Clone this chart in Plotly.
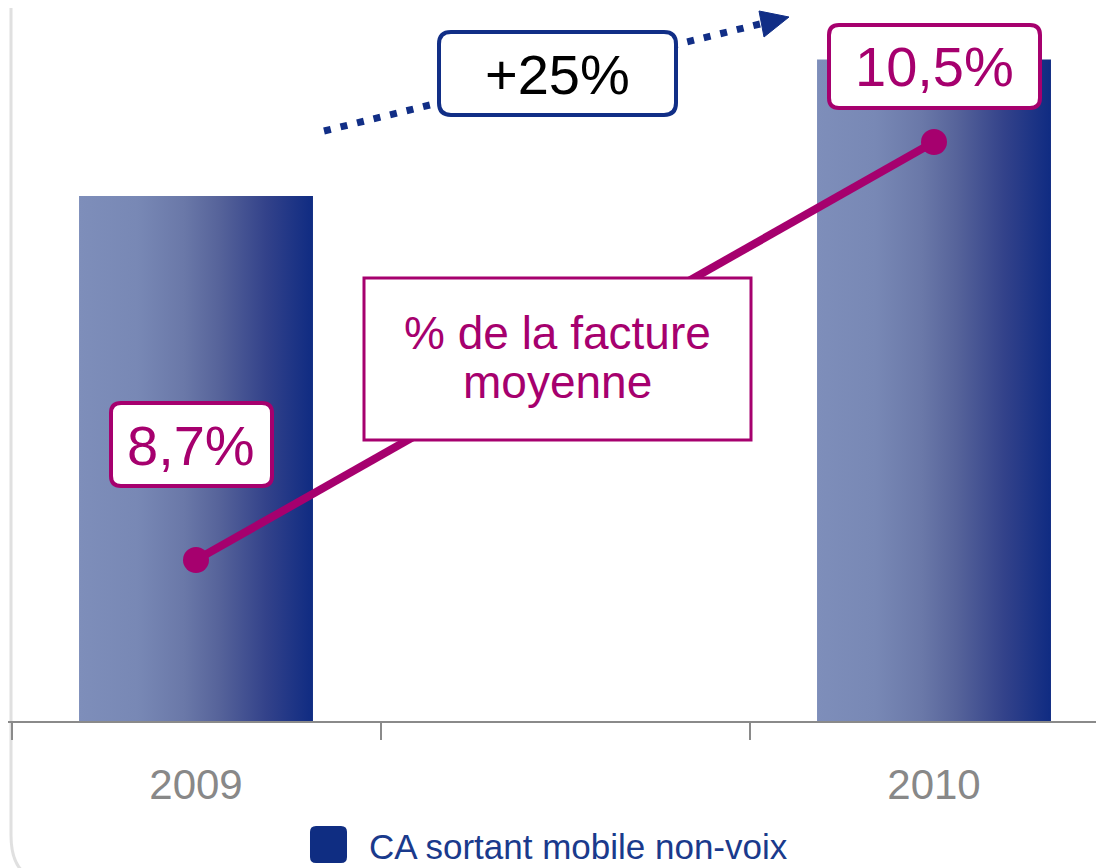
import plotly.graph_objects as go

# data
years = ["2009", "2010"]
year_pos = [0, 2]                 # middle slot left empty like the original
ca_values = [100, 126]            # CA sortant mobile non-voix (index, 2010 ~ +25%)
share_values = [8.7, 10.5]        # % de la facture moyenne
growth_label = "+25%"
series_name = "CA sortant mobile non-voix"
line_name = "% de la facture moyenne"

W, H = 1104, 868
OFF = 8   # page body margin, layout measured in window pixels
MAGENTA = "#a6006e"
NAVY = "#112e86"
FONT = "Liberation Sans, Arial, sans-serif"


def fx(px):
    return (px - OFF) / W


def fy(py):
    return 1 - (py - OFF) / H


def rrect(x0, y0, x1, y1, r):
    # rounded rectangle path, window pixels -> paper coords
    pts = [
        ("M", [(x0 + r, y0)]), ("L", [(x1 - r, y0)]), ("Q", [(x1, y0), (x1, y0 + r)]),
        ("L", [(x1, y1 - r)]), ("Q", [(x1, y1), (x1 - r, y1)]),
        ("L", [(x0 + r, y1)]), ("Q", [(x0, y1), (x0, y1 - r)]),
        ("L", [(x0, y0 + r)]), ("Q", [(x0, y0), (x0 + r, y0)]),
    ]
    s = ""
    for cmd, p in pts:
        s += cmd + " " + " ".join(f"{fx(a):.5f},{fy(b):.5f}" for a, b in p) + " "
    return s + "Z"


fig = go.Figure()

bar_w = 0.634
for pos, v in zip(year_pos, ca_values):
    fig.add_trace(go.Scatter(
        x=[pos - bar_w / 2, pos - bar_w / 2, pos + bar_w / 2, pos + bar_w / 2, pos - bar_w / 2],
        y=[0, v, v, 0, 0],
        mode="lines", line=dict(width=0), fill="toself",
        fillgradient=dict(type="horizontal", colorscale=[
            [0, "#7e8eba"], [0.25, "#7888b5"], [0.45, "#6a78a8"],
            [0.6, "#56639a"], [0.8, "#33428a"], [1, "#0f2b82"]]),
        name=series_name, showlegend=False, hoverinfo="skip",
    ))

fig.add_trace(go.Scatter(
    x=year_pos, y=share_values, yaxis="y2", mode="lines+markers",
    line=dict(color=MAGENTA, width=8), marker=dict(color=MAGENTA, size=26),
    name=line_name, showlegend=False,
))

shapes = []
# light frame on the left
shapes.append(dict(type="path", xref="paper", yref="paper",
                   path=f"M {fx(11)},{fy(-5)} L {fx(11)},{fy(835)} Q {fx(11)},{fy(875)} {fx(40)},{fy(880)}",
                   line=dict(color="#e0e0e0", width=3), layer="below"))
# dotted growth arrow
shapes.append(dict(type="line", xref="paper", yref="paper",
                   x0=fx(324), y0=fy(131), x1=fx(760), y1=fy(24),
                   line=dict(color=NAVY, width=7, dash="7px,10px")))
shapes.append(dict(type="path", xref="paper", yref="paper",
                   path=f"M {fx(759)},{fy(11)} L {fx(789)},{fy(17)} L {fx(764)},{fy(37)} Z",
                   fillcolor=NAVY, line=dict(color=NAVY, width=1)))
# label boxes
shapes.append(dict(type="path", xref="paper", yref="paper", path=rrect(439, 32, 676, 115, 12),
                   fillcolor="white", line=dict(color=NAVY, width=4)))
shapes.append(dict(type="path", xref="paper", yref="paper", path=rrect(111, 403, 272, 486, 10),
                   fillcolor="white", line=dict(color=MAGENTA, width=4)))
shapes.append(dict(type="path", xref="paper", yref="paper", path=rrect(829, 25, 1040, 108, 10),
                   fillcolor="white", line=dict(color=MAGENTA, width=4)))
shapes.append(dict(type="rect", xref="paper", yref="paper",
                   x0=fx(364), y0=fy(278), x1=fx(751), y1=fy(440),
                   fillcolor="white", line=dict(color=MAGENTA, width=3)))
# legend swatch
shapes.append(dict(type="path", xref="paper", yref="paper", path=rrect(310, 826, 347, 863, 6),
                   fillcolor="#0f2d82", line=dict(width=0)))


def fmt(v):
    return f"{v:.1f}".replace(".", ",") + "%"


annotations = [
    dict(x=fx(557), y=fy(74), text=growth_label, font=dict(size=56, color="black")),
    dict(x=fx(191), y=fy(445), text=fmt(share_values[0]), font=dict(size=56, color=MAGENTA)),
    dict(x=fx(934), y=fy(67), text=fmt(share_values[1]), font=dict(size=56, color=MAGENTA)),
    dict(x=fx(557), y=fy(333), text="% de la facture", font=dict(size=46, color=MAGENTA)),
    dict(x=fx(557), y=fy(382), text="moyenne", font=dict(size=46, color=MAGENTA)),
    dict(x=fx(367), y=fy(846), text=series_name, xanchor="left",
         font=dict(size=35, color="#1a3a8c")),
]
for a in annotations:
    a.update(xref="paper", yref="paper", showarrow=False)
    a.setdefault("xanchor", "center")
    a["yanchor"] = "middle"

# axis ranges chosen so the window pixels line up with the reference
px_per_cat = 369.0
cat_center = 196.0
fig.update_layout(
    width=W, height=H,
    margin=dict(l=0, r=0, t=0, b=0, autoexpand=False),
    paper_bgcolor="white", plot_bgcolor="white",
    font=dict(family=FONT),
    showlegend=False,
    shapes=shapes,
    annotations=annotations,
    xaxis=dict(
        range=[(OFF - cat_center) / px_per_cat, (OFF + W - cat_center) / px_per_cat],
        showgrid=False, zeroline=False,
        showline=True, linecolor="#8a8a8a", linewidth=2,
        tickmode="array", tickvals=year_pos, ticktext=years, ticks="",
        tickfont=dict(size=42, color="#888888"), ticklabelstandoff=26,
        minor=dict(tickmode="array", tickvals=[-0.5, 0.5, 1.5, 2.5], ticks="outside",
                   ticklen=17, tickwidth=2, tickcolor="#8a8a8a", showgrid=False),
        automargin=False, fixedrange=True,
    ),
    yaxis=dict(domain=[(H - (721 - OFF)) / H, 1], range=[0, (721 - OFF) / 5.25],
               visible=False, fixedrange=True),
    yaxis2=dict(domain=[(H - (721 - OFF)) / H, 1], range=[8.007, 11.077], overlaying="y",
                visible=False, fixedrange=True),
)

fig.write_html("out.html")
